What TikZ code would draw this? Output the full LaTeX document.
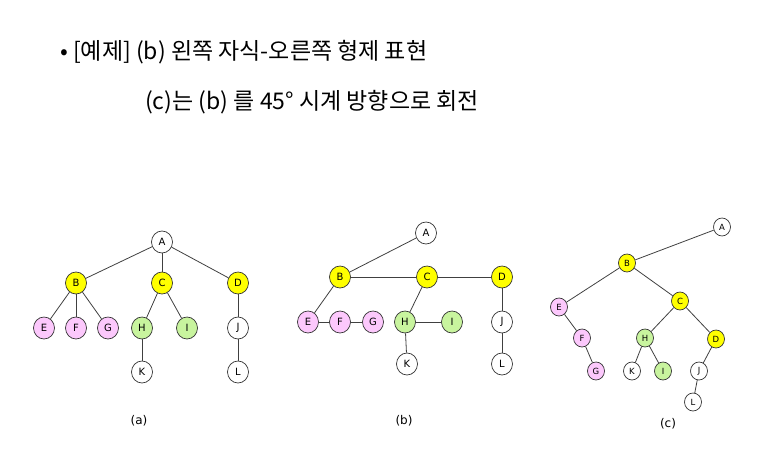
\documentclass[tikz,border=0pt]{standalone}
\usepackage{fontspec}
\setsansfont{DejaVu Sans}
\newfontfamily\krfont{Noto Sans CJK KR}
\begin{document}
\begin{tikzpicture}[x=1pt, y=-1pt,
  tnode/.style={draw=black!80, ellipse, line width=0.7pt, inner sep=0pt, minimum width=21pt, minimum height=22pt, font=\sffamily\fontsize{10}{10}\selectfont},
  snode/.style={tnode, minimum width=17pt, minimum height=18pt, font=\sffamily\fontsize{8.5}{8.5}\selectfont},
  edge/.style={draw=black!75, line width=0.8pt},
  caption/.style={font=\sffamily\fontsize{12}{12}\selectfont},
  title/.style={anchor=west, inner sep=0pt, font=\krfont\fontsize{23}{23}\selectfont}]
\usetikzlibrary{shapes.geometric}
\definecolor{yel}{HTML}{FFFF00}
\definecolor{pnk}{HTML}{FCC8FC}
\definecolor{grn}{HTML}{C8F49E}
\useasboundingbox (0,0) rectangle (762,465);
\node[title] (line1) at (60,52) {• [예제] (b) 왼쪽 자식-오른쪽 형제 표현};
\node[title] (line2) at (145,102) {(c)는 (b) 를 45° 시계 방향으로 회전};
\node[tnode] (aA) at (162,242) {A};
\node[tnode, fill=yel] (aB) at (76,283) {B};
\node[tnode, fill=yel] (aC) at (162,283) {C};
\node[tnode, fill=yel] (aD) at (238,283) {D};
\node[tnode, fill=pnk] (aE) at (44,328) {E};
\node[tnode, fill=pnk] (aF) at (76,328) {F};
\node[tnode, fill=pnk] (aG) at (108,328) {G};
\node[tnode, fill=grn] (aH) at (142,328) {H};
\node[tnode, fill=grn] (aI) at (187,328) {I};
\node[tnode] (aJ) at (238,328) {J};
\node[tnode] (aK) at (142,372) {K};
\node[tnode] (aL) at (238,372) {L};
\foreach \u/\v in {aA/aB, aA/aC, aA/aD, aB/aE, aB/aF, aB/aG, aC/aH, aC/aI, aD/aJ, aH/aK, aJ/aL}
  \draw[edge] (\u) -- (\v);
\node[caption] (capa) at (139,421) {(a)};
\node[tnode] (bA) at (426,233) {A};
\node[tnode, fill=yel] (bB) at (340,277) {B};
\node[tnode, fill=yel] (bC) at (427,277) {C};
\node[tnode, fill=yel] (bD) at (502,277) {D};
\node[tnode, fill=pnk] (bE) at (308,322) {E};
\node[tnode, fill=pnk] (bF) at (340,322) {F};
\node[tnode, fill=pnk] (bG) at (373,322) {G};
\node[tnode, fill=grn] (bH) at (405,322) {H};
\node[tnode, fill=grn] (bI) at (452,322) {I};
\node[tnode] (bJ) at (502,322) {J};
\node[tnode] (bK) at (407,364) {K};
\node[tnode] (bL) at (502,364) {L};
\foreach \u/\v in {bA/bB, bB/bC, bC/bD, bB/bE, bE/bF, bF/bG, bC/bH, bH/bI, bD/bJ, bH/bK, bJ/bL}
  \draw[edge] (\u) -- (\v);
\node[caption] (capb) at (404,421) {(b)};
\node[snode] (cA) at (722,227) {A};
\node[snode, fill=yel] (cB) at (627,263) {B};
\node[snode, fill=yel] (cC) at (680,301) {C};
\node[snode, fill=yel] (cD) at (716,339) {D};
\node[snode, fill=pnk] (cE) at (559,307) {E};
\node[snode, fill=pnk] (cF) at (582,338) {F};
\node[snode, fill=pnk] (cG) at (596,371) {G};
\node[snode, fill=grn] (cH) at (645,338) {H};
\node[snode, fill=grn] (cI) at (663,371) {I};
\node[snode] (cJ) at (699,371) {J};
\node[snode] (cK) at (632,371) {K};
\node[snode] (cL) at (693,402) {L};
\foreach \u/\v in {cA/cB, cB/cE, cB/cC, cE/cF, cF/cG, cC/cH, cC/cD, cH/cK, cH/cI, cD/cJ, cJ/cL}
  \draw[edge] (\u) -- (\v);
\node[caption] (capc) at (668,424) {(c)};
\end{tikzpicture}
\end{document}
